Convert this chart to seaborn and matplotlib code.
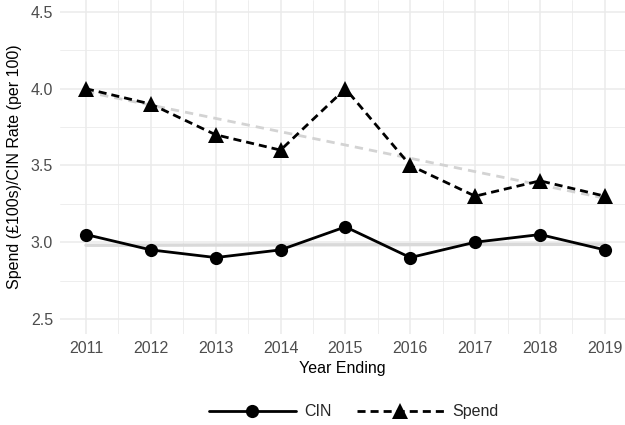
import pandas as pd
import matplotlib.pyplot as plt
import seaborn as sns
from matplotlib.ticker import MultipleLocator

# Style
sns.set_theme(style="whitegrid")
plt.rcParams["font.family"] = ["Liberation Sans", "DejaVu Sans"]

# Data
years = [2011, 2012, 2013, 2014, 2015, 2016, 2017, 2018, 2019]
cin_rate = [3.05, 2.95, 2.90, 2.95, 3.10, 2.90, 3.00, 3.05, 2.95]
spend = [4.0, 3.9, 3.7, 3.6, 4.0, 3.5, 3.3, 3.4, 3.3]
y_ticks = [2.5, 3.0, 3.5, 4.0, 4.5]

df = pd.DataFrame({"Year": years, "CIN": cin_rate, "Spend": spend})
long_df = df.melt(id_vars="Year", var_name="Series", value_name="Value")

fig = plt.figure(figsize=(6.25, 4.25), dpi=100)
ax = fig.add_axes([60 / 625, 1 - 334 / 425, 565 / 625, 334 / 425])

# Linear trend lines behind the data
sns.regplot(data=df, x="Year", y="CIN", scatter=False, ci=None, ax=ax,
            color="#d9d9d9", line_kws={"lw": 2.4, "zorder": 2})
sns.regplot(data=df, x="Year", y="Spend", scatter=False, ci=None, ax=ax,
            color="#d3d3d3", line_kws={"lw": 2.0, "ls": (0, (3.0, 2.2)), "zorder": 2})

sns.lineplot(data=long_df, x="Year", y="Value", hue="Series", style="Series",
             palette={"CIN": "black", "Spend": "black"},
             markers={"CIN": "o", "Spend": "^"},
             dashes={"CIN": "", "Spend": (2.9, 1.8)},
             markersize=9.5, markeredgewidth=0, linewidth=2.0, ax=ax, zorder=3)

# triangles are drawn a bit bigger than the circles
for ln in ax.get_lines():
    if ln.get_marker() == "^":
        ln.set_markersize(12)

ax.set_xlim(2010.6, 2019.31)
ax.set_ylim(2.402, 4.578)
ax.set_xticks(years)
ax.set_yticks(y_ticks)
ax.xaxis.set_minor_locator(MultipleLocator(0.5))
ax.yaxis.set_minor_locator(MultipleLocator(0.25))
ax.grid(which="major", color="#ebebeb", lw=1.1)
ax.grid(which="minor", color="#ebebeb", lw=0.6)
ax.tick_params(which="both", length=0, labelsize=11.5, colors="#4d4d4d", pad=5)
for s in ax.spines.values():
    s.set_visible(False)

ax.set_xlabel("Year Ending", fontsize=11.5, color="black", labelpad=4)
ax.set_ylabel("Spend (£100s)/CIN Rate (per 100)", fontsize=11.5, color="black", labelpad=6)

handles, labels = ax.get_legend_handles_labels()
for h in handles:
    if h.get_marker() == "^":
        h.set_markersize(12)
ax.get_legend().remove()
fig.legend(handles, labels, loc="center", bbox_to_anchor=(354 / 625, 0.031),
           ncol=2, frameon=False, fontsize=11.5, handlelength=5.4,
           handletextpad=0.55, columnspacing=1.6)

plt.savefig("out.png", dpi=100)
